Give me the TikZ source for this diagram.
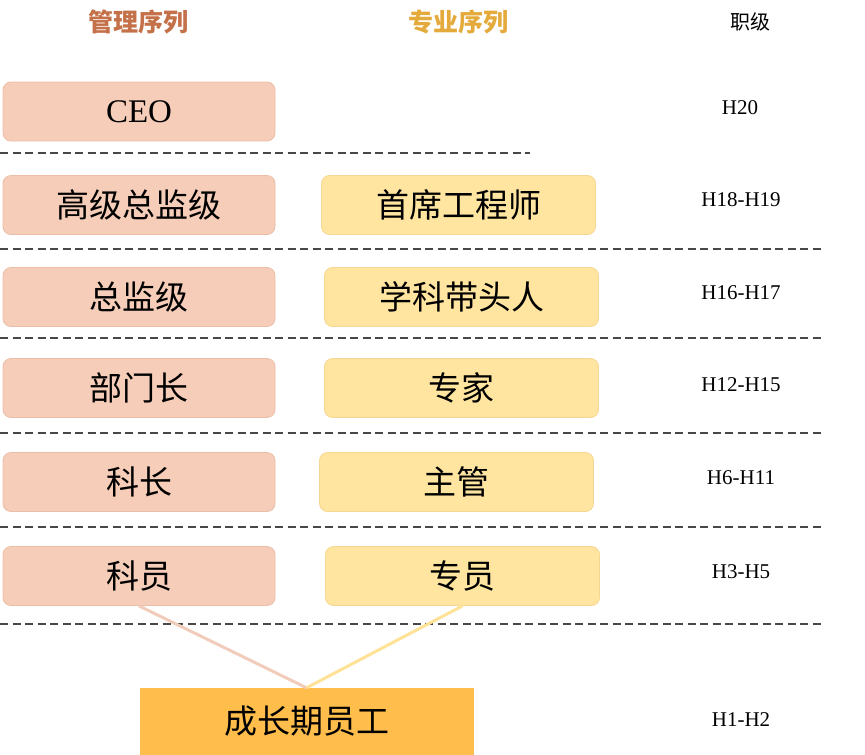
\documentclass[tikz,border=0pt]{standalone}
\usepackage{fontspec}
\setmainfont{Liberation Serif}
\newfontfamily\cjk{Noto Sans CJK SC}

\begin{document}
\begin{tikzpicture}[x=1pt, y=-1pt,
        mgmtbox/.style={draw=borderMgmt, fill=fillMgmt, line width=0.8pt, rounded corners=8pt,
            minimum width=272pt, minimum height=59pt, font=\cjk\fontsize{33}{33}\selectfont},
        profbox/.style={draw=borderProf, fill=fillProf, line width=0.8pt, rounded corners=8pt,
            minimum width=274pt, minimum height=59pt, font=\cjk\fontsize{33}{33}\selectfont},
        growbox/.style={draw=fillGrow, fill=fillGrow, minimum width=333pt, minimum height=66pt,
            font=\cjk\fontsize{33}{33}\selectfont},
        rank/.style={font=\fontsize{21}{21}\selectfont},
        sepline/.style={draw=sepGray, line width=2.2pt, dash pattern=on 8pt off 4.5pt}]
        \definecolor{fillMgmt}{RGB}{245, 205, 184}
        \definecolor{borderMgmt}{RGB}{236, 190, 168}
        \definecolor{lineMgmt}{RGB}{242, 204, 186}
        \definecolor{fillProf}{RGB}{255, 229, 160}
        \definecolor{borderProf}{RGB}{246, 214, 146}
        \definecolor{lineProf}{RGB}{255, 226, 150}
        \definecolor{fillGrow}{RGB}{255, 189, 76}
        \definecolor{headMgmt}{RGB}{196, 112, 72}
        \definecolor{headProf}{RGB}{228, 170, 60}
        \definecolor{sepGray}{RGB}{72, 72, 72}
        \useasboundingbox (0,0) rectangle (865,755);

        \node[font=\cjk\bfseries\fontsize{25}{25}\selectfont, text=headMgmt] (headM) at (138,22) {管理序列};
        \node[font=\cjk\bfseries\fontsize{25}{25}\selectfont, text=headProf] (headP) at (458,22) {专业序列};
        \node[font=\cjk\fontsize{20}{20}\selectfont] (headR) at (750,22) {职级};

        \node[mgmtbox, font=\fontsize{33}{33}\selectfont] (ceo) at (139,111.5) {CEO};
        \node[mgmtbox] (senior) at (139,205) {高级总监级};
        \node[mgmtbox] (director) at (139,297) {总监级};
        \node[mgmtbox] (depthead) at (139,388) {部门长};
        \node[mgmtbox] (secthead) at (139,482) {科长};
        \node[mgmtbox] (clerk) at (139,576) {科员};

        \node[profbox] (chiefeng) at (458.5,205) {首席工程师};
        \node[profbox] (leader) at (461.5,297) {学科带头人};
        \node[profbox] (expert) at (461.5,388) {专家};
        \node[profbox] (supervisor) at (456.5,482) {主管};
        \node[profbox] (specialist) at (462.5,576) {专员};

        \node[growbox] (growth) at (306.5,721) {成长期员工};

        \node[rank] (r20) at (740,108) {H20};
        \node[rank] (r18) at (741,200) {H18-H19};
        \node[rank] (r16) at (741,293) {H16-H17};
        \node[rank] (r12) at (741,385) {H12-H15};
        \node[rank] (r6) at (741,478) {H6-H11};
        \node[rank] (r3) at (741,572) {H3-H5};
        \node[rank] (r1) at (741,720) {H1-H2};

        \draw[sepline] (0,153) -- (530,153);
        \draw[sepline] (0,249) -- (823,249);
        \draw[sepline] (0,338) -- (823,338);
        \draw[sepline] (0,433) -- (823,433);
        \draw[sepline] (0,527) -- (823,527);
        \draw[sepline] (0,624) -- (823,624);

        \draw[lineMgmt, line width=3pt] (clerk.south) -- (growth.north);
        \draw[lineProf, line width=3pt] (specialist.south) -- (growth.north);
    \end{tikzpicture}
\end{document}
